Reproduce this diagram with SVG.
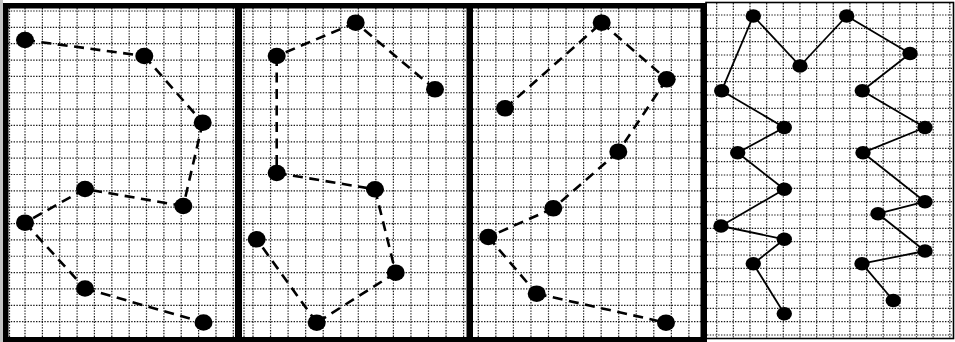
<svg xmlns="http://www.w3.org/2000/svg" width="955" height="342" viewBox="0 0 955 342">
<style>
.grid{fill:none;stroke:#1a1a1a;stroke-width:1.2;stroke-dasharray:1.4 1.4}
.frame{fill:#000}
.dash{stroke:#000;stroke-width:2.6;stroke-dasharray:10 6.5;fill:none}
.solid{stroke:#000;stroke-width:1.8;fill:none}
.n{fill:#000}
</style>
<rect x="0" y="0" width="955" height="342" fill="#fff"/>
<rect x="0" y="0" width="3" height="342" fill="#c4c4c4"/>
<g id="grid">
<path class="grid" d="M8 11H701M8 27.35H701M8 43.7H701M8 60.05H701M8 76.4H701M8 92.75H701M8 109.1H701M8 125.45H701M8 141.8H701M8 158.15H701M8 174.5H701M8 190.85H701M8 207.2H701M8 223.55H701M8 239.9H701M8 256.25H701M8 272.6H701M8 288.95H701M8 305.3H701M8 321.65H701"/>
<path class="grid" d="M9.5 8V337M25 8V337M42.4 8V337M59.7 8V337M77.1 8V337M94.4 8V337M111.8 8V337M129.2 8V337M146.5 8V337M163.9 8V337M181.2 8V337M198.6 8V337M216 8V337M233.3 8V337"/>
<path class="grid" d="M244 8V337M253 8V337M270.55 8V337M288.1 8V337M305.65 8V337M323.2 8V337M340.75 8V337M358.3 8V337M375.85 8V337M393.4 8V337M410.95 8V337M428.5 8V337M446.05 8V337M463.6 8V337"/>
<path class="grid" d="M478.3 8V337M495.85 8V337M513.4 8V337M530.95 8V337M548.5 8V337M566.05 8V337M583.6 8V337M601.15 8V337M618.7 8V337M636.25 8V337M653.8 8V337M671.35 8V337M688.9 8V337"/>
<path class="grid" d="M716.7 3V338M733.35 3V338M750 3V338M766.65 3V338M783.3 3V338M799.95 3V338M816.6 3V338M833.25 3V338M849.9 3V338M866.55 3V338M883.2 3V338M899.85 3V338M916.5 3V338M933.15 3V338M949.8 3V338"/>
<path class="grid" d="M707 15H953M707 28.33H953M707 41.67H953M707 55H953M707 68.33H953M707 81.67H953M707 95H953M707 108.33H953M707 121.67H953M707 135H953M707 148.33H953M707 161.67H953M707 175H953M707 188.33H953M707 201.67H953M707 215H953M707 228.33H953M707 241.67H953M707 255H953M707 268.33H953M707 281.67H953M707 295H953M707 308.33H953M707 321.67H953M707 335H953"/>
</g>
<g id="frames">
<rect class="frame" x="3" y="3" width="704" height="5.5"/>
<rect class="frame" x="3" y="3" width="5.5" height="339"/>
<rect class="frame" x="3" y="337" width="704" height="5"/>
<rect class="frame" x="235" y="3" width="7" height="339"/>
<rect class="frame" x="466.5" y="3" width="6.5" height="339"/>
<rect class="frame" x="700.5" y="3" width="6.5" height="339"/>
<rect x="706" y="2.5" width="247.5" height="336" fill="none" stroke="#000" stroke-width="1.6"/>
</g>
<g id="connectors">
<line class="dash" x1="25" y1="40" x2="144.3" y2="56"/>
<line class="dash" x1="144.3" y1="56" x2="202.7" y2="122.7"/>
<line class="dash" x1="202.7" y1="122.7" x2="183.3" y2="206"/>
<line class="dash" x1="183.3" y1="206" x2="85" y2="189"/>
<line class="dash" x1="85" y1="189" x2="25" y2="222.7"/>
<line class="dash" x1="25" y1="222.7" x2="85" y2="288.5"/>
<line class="dash" x1="85" y1="288.5" x2="203.5" y2="322.5"/>
<line class="dash" x1="435" y1="89.3" x2="355.7" y2="22.7"/>
<line class="dash" x1="355.7" y1="22.7" x2="276.7" y2="56"/>
<line class="dash" x1="276.7" y1="56" x2="276.7" y2="173"/>
<line class="dash" x1="276.7" y1="173" x2="375" y2="189.3"/>
<line class="dash" x1="375" y1="189.3" x2="395.7" y2="272.7"/>
<line class="dash" x1="395.7" y1="272.7" x2="316.7" y2="322.7"/>
<line class="dash" x1="316.7" y1="322.7" x2="256.7" y2="239.3"/>
<line class="dash" x1="505" y1="108.3" x2="601.7" y2="22.7"/>
<line class="dash" x1="601.7" y1="22.7" x2="666.7" y2="79.3"/>
<line class="dash" x1="666.7" y1="79.3" x2="618.3" y2="151.7"/>
<line class="dash" x1="618.3" y1="151.7" x2="553.3" y2="208.3"/>
<line class="dash" x1="553.3" y1="208.3" x2="488.3" y2="237"/>
<line class="dash" x1="488.3" y1="237" x2="536.7" y2="293.7"/>
<line class="dash" x1="536.7" y1="293.7" x2="666" y2="322.7"/>
<line class="solid" x1="784.3" y1="313.7" x2="753.3" y2="263.7"/>
<line class="solid" x1="753.3" y1="263.7" x2="784.3" y2="239.3"/>
<line class="solid" x1="784.3" y1="239.3" x2="721" y2="226"/>
<line class="solid" x1="721" y1="226" x2="784.3" y2="189.3"/>
<line class="solid" x1="784.3" y1="189.3" x2="737.7" y2="152.7"/>
<line class="solid" x1="737.7" y1="152.7" x2="784.3" y2="127.5"/>
<line class="solid" x1="784.3" y1="127.5" x2="721.7" y2="90.7"/>
<line class="solid" x1="721.7" y1="90.7" x2="753.3" y2="16"/>
<line class="solid" x1="753.3" y1="16" x2="800" y2="66"/>
<line class="solid" x1="800" y1="66" x2="846.7" y2="16"/>
<line class="solid" x1="846.7" y1="16" x2="910" y2="53.5"/>
<line class="solid" x1="910" y1="53.5" x2="862.3" y2="90.7"/>
<line class="solid" x1="862.3" y1="90.7" x2="925" y2="127.5"/>
<line class="solid" x1="925" y1="127.5" x2="863" y2="152.7"/>
<line class="solid" x1="863" y1="152.7" x2="925" y2="201.7"/>
<line class="solid" x1="925" y1="201.7" x2="878" y2="213.7"/>
<line class="solid" x1="878" y1="213.7" x2="925" y2="251"/>
<line class="solid" x1="925" y1="251" x2="862" y2="263.7"/>
<line class="solid" x1="862" y1="263.7" x2="893.3" y2="300.5"/>
</g>
<g id="a1"><ellipse class="n" cx="25" cy="40" rx="9" ry="8.3"/></g>
<g id="a2"><ellipse class="n" cx="144.3" cy="56" rx="9" ry="8.3"/></g>
<g id="a3"><ellipse class="n" cx="202.7" cy="122.7" rx="9" ry="8.3"/></g>
<g id="a4"><ellipse class="n" cx="183.3" cy="206" rx="9" ry="8.3"/></g>
<g id="a5"><ellipse class="n" cx="85" cy="189" rx="9" ry="8.3"/></g>
<g id="a6"><ellipse class="n" cx="25" cy="222.7" rx="9" ry="8.3"/></g>
<g id="a7"><ellipse class="n" cx="85" cy="288.5" rx="9" ry="8.3"/></g>
<g id="a8"><ellipse class="n" cx="203.5" cy="322.5" rx="9" ry="8.3"/></g>
<g id="b1"><ellipse class="n" cx="435" cy="89.3" rx="9" ry="8.3"/></g>
<g id="b2"><ellipse class="n" cx="355.7" cy="22.7" rx="9" ry="8.3"/></g>
<g id="b3"><ellipse class="n" cx="276.7" cy="56" rx="9" ry="8.3"/></g>
<g id="b4"><ellipse class="n" cx="276.7" cy="173" rx="9" ry="8.3"/></g>
<g id="b5"><ellipse class="n" cx="375" cy="189.3" rx="9" ry="8.3"/></g>
<g id="b6"><ellipse class="n" cx="395.7" cy="272.7" rx="9" ry="8.3"/></g>
<g id="b7"><ellipse class="n" cx="316.7" cy="322.7" rx="9" ry="8.3"/></g>
<g id="b8"><ellipse class="n" cx="256.7" cy="239.3" rx="9" ry="8.3"/></g>
<g id="c1"><ellipse class="n" cx="505" cy="108.3" rx="9" ry="8.3"/></g>
<g id="c2"><ellipse class="n" cx="601.7" cy="22.7" rx="9" ry="8.3"/></g>
<g id="c3"><ellipse class="n" cx="666.7" cy="79.3" rx="9" ry="8.3"/></g>
<g id="c4"><ellipse class="n" cx="618.3" cy="151.7" rx="9" ry="8.3"/></g>
<g id="c5"><ellipse class="n" cx="553.3" cy="208.3" rx="9" ry="8.3"/></g>
<g id="c6"><ellipse class="n" cx="488.3" cy="237" rx="9" ry="8.3"/></g>
<g id="c7"><ellipse class="n" cx="536.7" cy="293.7" rx="9" ry="8.3"/></g>
<g id="c8"><ellipse class="n" cx="666" cy="322.7" rx="9" ry="8.3"/></g>
<g id="d1"><ellipse class="n" cx="753.3" cy="16" rx="7.7" ry="6.7"/></g>
<g id="d2"><ellipse class="n" cx="800" cy="66" rx="7.7" ry="6.7"/></g>
<g id="d3"><ellipse class="n" cx="846.7" cy="16" rx="7.7" ry="6.7"/></g>
<g id="d4"><ellipse class="n" cx="910" cy="53.5" rx="7.7" ry="6.7"/></g>
<g id="d5"><ellipse class="n" cx="721.7" cy="90.7" rx="7.7" ry="6.7"/></g>
<g id="d6"><ellipse class="n" cx="862.3" cy="90.7" rx="7.7" ry="6.7"/></g>
<g id="d7"><ellipse class="n" cx="784.3" cy="127.5" rx="7.7" ry="6.7"/></g>
<g id="d8"><ellipse class="n" cx="925" cy="127.5" rx="7.7" ry="6.7"/></g>
<g id="d9"><ellipse class="n" cx="737.7" cy="152.7" rx="7.7" ry="6.7"/></g>
<g id="d10"><ellipse class="n" cx="863" cy="152.7" rx="7.7" ry="6.7"/></g>
<g id="d11"><ellipse class="n" cx="784.3" cy="189.3" rx="7.7" ry="6.7"/></g>
<g id="d12"><ellipse class="n" cx="925" cy="201.7" rx="7.7" ry="6.7"/></g>
<g id="d13"><ellipse class="n" cx="878" cy="213.7" rx="7.7" ry="6.7"/></g>
<g id="d14"><ellipse class="n" cx="721" cy="226" rx="7.7" ry="6.7"/></g>
<g id="d15"><ellipse class="n" cx="784.3" cy="239.3" rx="7.7" ry="6.7"/></g>
<g id="d16"><ellipse class="n" cx="925" cy="251" rx="7.7" ry="6.7"/></g>
<g id="d17"><ellipse class="n" cx="753.3" cy="263.7" rx="7.7" ry="6.7"/></g>
<g id="d18"><ellipse class="n" cx="862" cy="263.7" rx="7.7" ry="6.7"/></g>
<g id="d19"><ellipse class="n" cx="893.3" cy="300.5" rx="7.7" ry="6.7"/></g>
<g id="d20"><ellipse class="n" cx="784.3" cy="313.7" rx="7.7" ry="6.7"/></g>
</svg>
